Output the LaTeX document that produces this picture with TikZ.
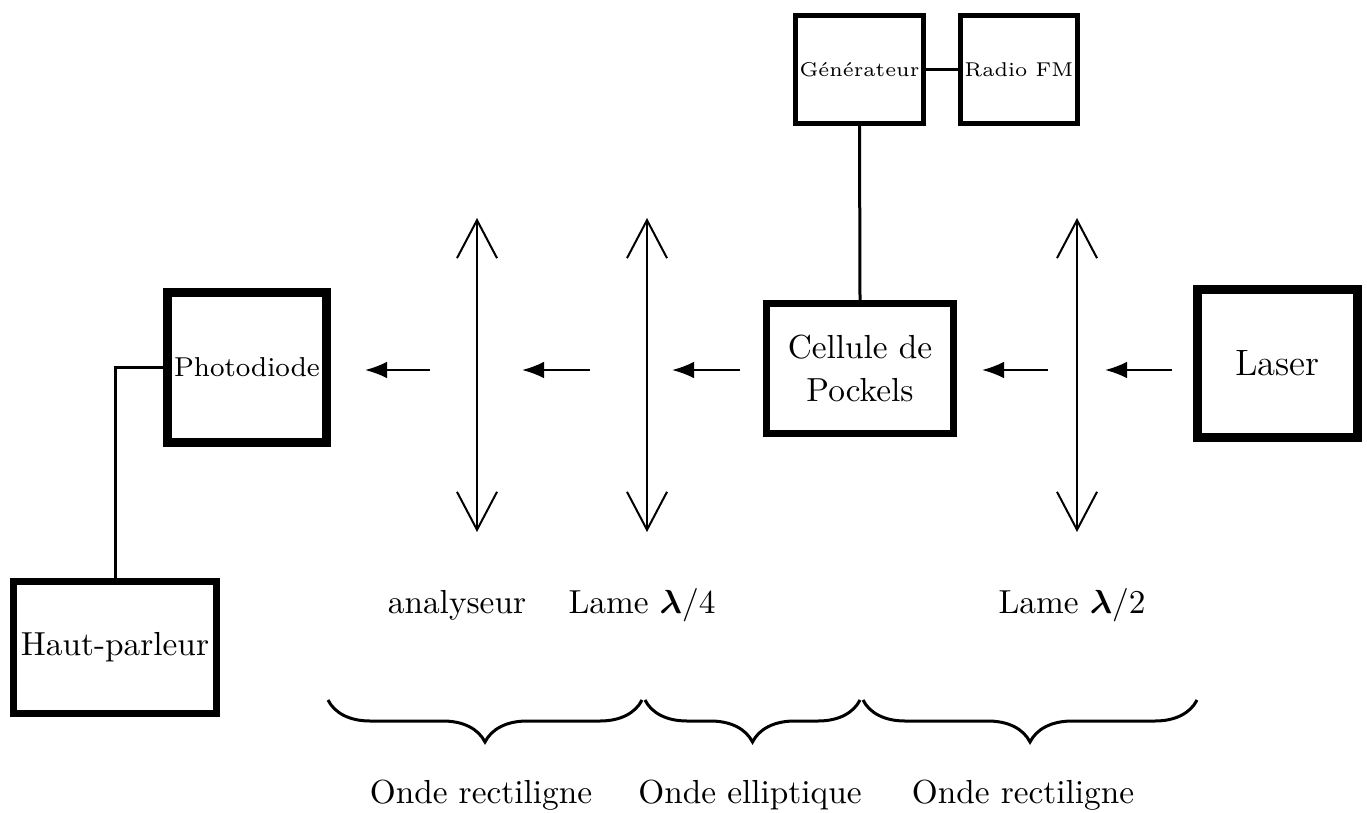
\documentclass[tikz,border=0pt]{standalone}
\usepackage{amsmath}
\usetikzlibrary{arrows.meta,decorations.pathreplacing}
\begin{document}
\begin{tikzpicture}[x=0.3pt,y=-0.3pt,
  box/.style={draw,rectangle,align=center,inner sep=0pt,font=\fontsize{10}{13}\selectfont},
  smallbox/.style={box,line width=1.5pt,font=\fontsize{6}{8}\selectfont},
  link/.style={line width=0.9pt},
  ray/.style={line width=0.6pt,-{Latex[length=6.6pt,width=5pt]}},
  plate/.style={line width=0.6pt,{Straight Barb[length=11.4pt,width=12pt,line width=0.6pt]}-{Straight Barb[length=11.4pt,width=12pt,line width=0.6pt]}},
  lbl/.style={font=\fontsize{10}{12}\selectfont,inner sep=0pt},
  brc/.style={line width=0.9pt,decorate,decoration={brace,mirror,amplitude=12.6pt}}]
\useasboundingbox (0,0) rectangle (1367,813);

\node[smallbox,minimum width=128*0.3pt,minimum height=108*0.3pt] (gen) at (859.5,69.5) {G\'en\'erateur};
\node[smallbox,minimum width=117*0.3pt,minimum height=108*0.3pt] (fm) at (1019,69.5) {Radio FM};
\node[box,line width=2.1pt,minimum width=187*0.3pt,minimum height=130*0.3pt] (cel) at (860,368.5) {Cellule de\\Pockels};
\node[box,line width=2.7pt,minimum width=160*0.3pt,minimum height=148*0.3pt,font=\fontsize{11}{13}\selectfont] (las) at (1277.5,363.5) {Laser};
\node[box,line width=2.7pt,minimum width=159*0.3pt,minimum height=150*0.3pt,font=\fontsize{8.2}{10}\selectfont] (pd) at (247,367.5) {Photodiode};
\node[box,line width=2.1pt,minimum width=203*0.3pt,minimum height=132*0.3pt] (hp) at (115,647.5) {Haut-parleur};

\draw[link] (gen.east) -- (fm.west);
\draw[link] (gen.south) -- (cel.north);
\draw[link] (pd.west) -| (hp.north);

% light rays
\coordinate (r1s) at (430,370); \coordinate (r1e) at (365,370);
\coordinate (r2s) at (590,370); \coordinate (r2e) at (522,370);
\coordinate (r3s) at (740,370); \coordinate (r3e) at (672,370);
\coordinate (r4s) at (1048,370); \coordinate (r4e) at (982,370);
\coordinate (r5s) at (1172,370); \coordinate (r5e) at (1105,370);
\foreach \i in {1,...,5} \draw[ray] (r\i s) -- (r\i e);

% plates
\coordinate (a1) at (477,218); \coordinate (a2) at (477,532);
\coordinate (b1) at (647,218); \coordinate (b2) at (647,532);
\coordinate (c1) at (1077,218); \coordinate (c2) at (1077,532);
\draw[plate] (a1) -- (a2);
\draw[plate] (b1) -- (b2);
\draw[plate] (c1) -- (c2);

\node[lbl] (lan) at (457,605) {analyseur};
\node[lbl] (l4) at (642,605) {Lame $\boldsymbol{\lambda}/4$};
\node[lbl] (l2) at (1072,605) {Lame $\boldsymbol{\lambda}/2$};

% braces
\coordinate (k0) at (328,700); \coordinate (k1) at (642,700);
\coordinate (k2) at (645,700); \coordinate (k3) at (860,700);
\coordinate (k4) at (863,700); \coordinate (k5) at (1197,700);
\draw[brc] (k0) -- (k1);
\draw[brc] (k2) -- (k3);
\draw[brc] (k4) -- (k5);

\node[lbl] (o1) at (481,795) {Onde rectiligne};
\node[lbl] (o2) at (750,795) {Onde elliptique};
\node[lbl] (o3) at (1023,795) {Onde rectiligne};
\end{tikzpicture}
\end{document}
